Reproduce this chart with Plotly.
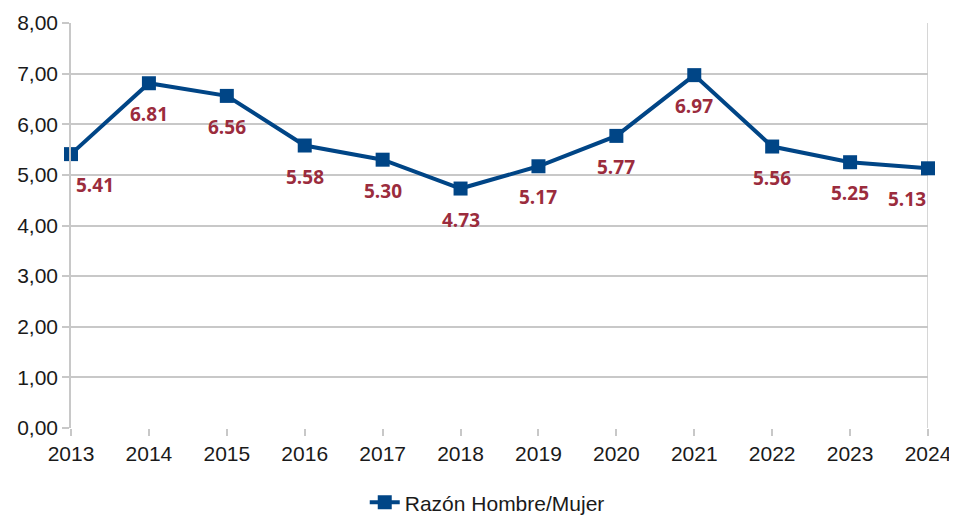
import plotly.graph_objects as go

years = [2013, 2014, 2015, 2016, 2017, 2018, 2019, 2020, 2021, 2022, 2023, 2024]
ratio = [5.41, 6.81, 6.56, 5.58, 5.30, 4.73, 5.17, 5.77, 6.97, 5.56, 5.25, 5.13]
series_name = "Razón Hombre/Mujer"
y_ticks = [0, 1, 2, 3, 4, 5, 6, 7, 8]

fig = go.Figure()
fig.add_trace(go.Scatter(
    x=years, y=ratio, mode="lines+markers", name=series_name,
    line=dict(color="#004586", width=4),
    marker=dict(symbol="square", size=14, color="#004586"),
    cliponaxis=False,
))

for i, (x, y) in enumerate(zip(years, ratio)):
    xs = 0
    if i == 0:
        xs = 24
    elif i == len(years) - 1:
        xs = -21
    fig.add_annotation(x=x, y=y, text=f"<b>{y:.2f}</b>", showarrow=False,
                       yshift=-31, xshift=xs,
                       font=dict(family="Open Sans, Noto Sans, sans-serif", size=19, color="#9b2c3d"))

# right border line at 2024
fig.add_shape(type="line", xref="x", yref="paper", x0=2024, x1=2024, y0=0, y1=1,
              line=dict(color="#c8c8c8", width=1.5), layer="below")

fig.update_layout(
    width=949, height=510,
    margin=dict(l=63, r=29, t=15, b=90, autoexpand=False),
    paper_bgcolor="white", plot_bgcolor="white",
    separators=",.",
    font=dict(family="Liberation Sans, Arial, sans-serif", size=21, color="#1a1a1a"),
    showlegend=True,
    legend=dict(orientation="h", x=0.505, xanchor="center", xref="container",
                y=0.03, yanchor="middle", yref="container",
                font=dict(size=21, color="#1a1a1a")),
    xaxis=dict(range=[2013, 2024], tickmode="array", tickvals=years,
               ticktext=[str(v) for v in years], showgrid=False,
               ticks="outside", ticklen=7, tickcolor="#c8c8c8", tickwidth=1.5,
               showline=False, zeroline=False, automargin=False),
    yaxis=dict(range=[0, 8], tickmode="array", tickvals=y_ticks, tickformat=".2f",
               showgrid=True, gridcolor="#c8c8c8", gridwidth=1.5,
               ticks="outside", ticklen=7, tickcolor="#c8c8c8", tickwidth=1.5,
               showline=True, linecolor="#c8c8c8", linewidth=1.5, zeroline=False,
               automargin=False),
)

fig.write_html("out.html")
